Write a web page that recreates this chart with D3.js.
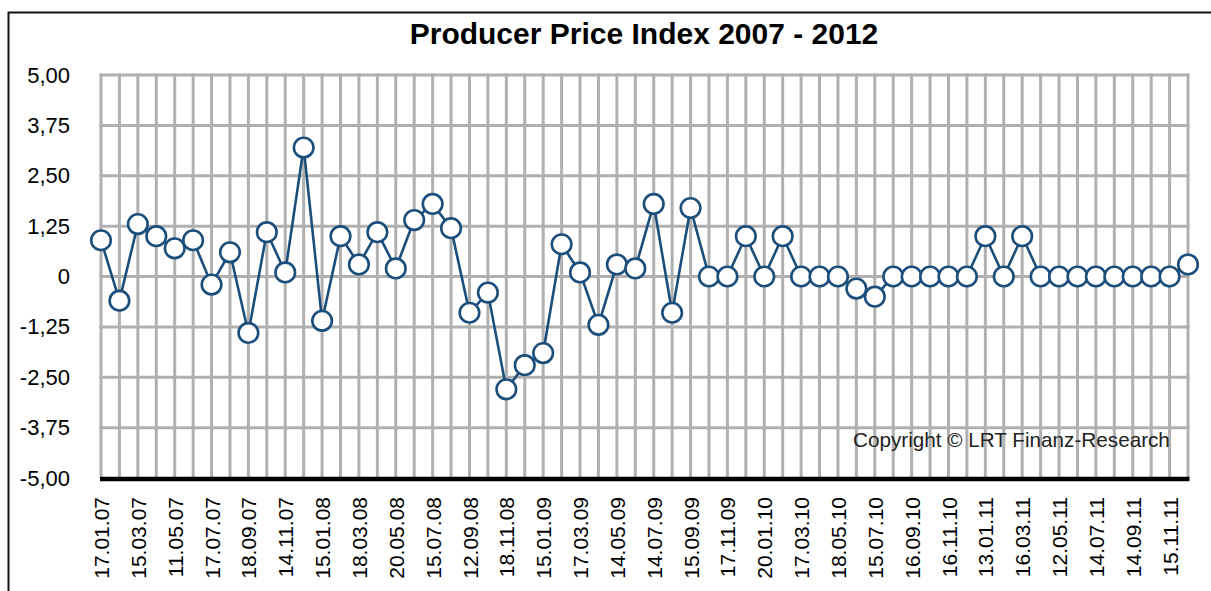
<!DOCTYPE html>
<html>
<head>
<meta charset="utf-8">
<script src="https://cdn.jsdelivr.net/npm/d3@7"></script>
<style>
  html, body { margin: 0; padding: 0; background: #fff; }
  svg { display: block; }
  text { font-family: Arial, "Liberation Sans", sans-serif; }
</style>
</head>
<body>
<svg id="chart" width="1211" height="591"></svg>
<script>
// ---- data ----
const categories = [
  "01.07","02.07","03.07","04.07","05.07","06.07","07.07","08.07","09.07","10.07","11.07","12.07",
  "01.08","02.08","03.08","04.08","05.08","06.08","07.08","08.08","09.08","10.08","11.08","12.08",
  "01.09","02.09","03.09","04.09","05.09","06.09","07.09","08.09","09.09","10.09","11.09","12.09",
  "01.10","02.10","03.10","04.10","05.10","06.10","07.10","08.10","09.10","10.10","11.10","12.10",
  "01.11","02.11","03.11","04.11","05.11","06.11","07.11","08.11","09.11","10.11","11.11","12.11"
];
const values = [
  0.9, -0.6, 1.3, 1.0, 0.7, 0.9, -0.2, 0.6, -1.4, 1.1,
  0.1, 3.2, -1.1, 1.0, 0.3, 1.1, 0.2, 1.4, 1.8, 1.2,
  -0.9, -0.4, -2.8, -2.2, -1.9, 0.8, 0.1, -1.2, 0.3, 0.2,
  1.8, -0.9, 1.7, 0, 0, 1.0, 0, 1.0, 0, 0,
  0, -0.3, -0.5, 0, 0, 0, 0, 0, 1.0, 0,
  1.0, 0, 0, 0, 0, 0, 0, 0, 0, 0.3
];
const tickCategories = [
  "01.07","03.07","05.07","07.07","09.07","11.07",
  "01.08","03.08","05.08","07.08","09.08","11.08",
  "01.09","03.09","05.09","07.09","09.09","11.09",
  "01.10","03.10","05.10","07.10","09.10","11.10",
  "01.11","03.11","05.11","07.11","09.11","11.11"
];
const tickLabels = [
  "17.01.07","15.03.07","11.05.07","17.07.07","18.09.07","14.11.07",
  "15.01.08","18.03.08","20.05.08","15.07.08","12.09.08","18.11.08",
  "15.01.09","17.03.09","14.05.09","14.07.09","15.09.09","17.11.09",
  "20.01.10","17.03.10","18.05.10","15.07.10","16.09.10","16.11.10",
  "13.01.11","16.03.11","12.05.11","14.07.11","14.09.11","15.11.11"
];
const yTicks = [5, 3.75, 2.5, 1.25, 0, -1.25, -2.5, -3.75, -5];
const yTickLabels = ["5,00","3,75","2,50","1,25","0","-1,25","-2,50","-3,75","-5,00"];
const title = "Producer Price Index 2007 - 2012";
const copyright = "Copyright \u00A9 LRT Finanz-Research";

// ---- layout ----
const svg = d3.select("#chart");
const L = 101, R = 1188, T = 75, B = 478;
const x = d3.scalePoint().domain(categories).range([L, R]);
const y = d3.scaleLinear().domain([-5, 5]).range([B, T]);
const gridColor = "#b0b0b0";
const lineColor = "#1c4e7b";

// outer frame
svg.append("rect").attr("x", 8.5).attr("y", 12.5).attr("width", 1230).attr("height", 600)
  .attr("fill", "none").attr("stroke", "#111").attr("stroke-width", 2);

// title
svg.append("text").attr("x", 644).attr("y", 44).attr("text-anchor", "middle")
  .attr("font-size", 30).attr("font-weight", "bold").attr("fill", "#000").text(title);

// vertical gridlines
svg.append("g").selectAll("line").data(categories).join("line")
  .attr("x1", d => x(d)).attr("x2", d => x(d))
  .attr("y1", T - 1.5).attr("y2", B)
  .attr("stroke", gridColor).attr("stroke-width", 3);

// horizontal gridlines
svg.append("g").selectAll("line").data(yTicks.filter(v => v !== -5)).join("line")
  .attr("x1", L - 1.5).attr("x2", R + 1.5)
  .attr("y1", d => y(d)).attr("y2", d => y(d))
  .attr("stroke", gridColor).attr("stroke-width", 3);

// y axis labels
const yAxis = d3.axisLeft(y).tickValues(yTicks)
  .tickFormat((d, i) => yTickLabels[i]).tickSize(0).tickPadding(0);
const gy = svg.append("g").attr("transform", `translate(70,0)`).call(yAxis);
gy.select(".domain").remove();
gy.selectAll("text").attr("font-size", 22).attr("fill", "#000")
  .attr("font-family", 'Arial, "Liberation Sans", sans-serif');

// x axis
const xAxis = d3.axisBottom(x).tickValues(tickCategories)
  .tickFormat((d, i) => tickLabels[i]).tickSize(0).tickPadding(0);
const gx = svg.append("g").attr("transform", `translate(0,${B})`).call(xAxis);
gx.select(".domain").remove();
gx.selectAll("text")
  .attr("font-size", 21).attr("fill", "#000")
  .attr("font-family", 'Arial, "Liberation Sans", sans-serif')
  .attr("text-anchor", "end")
  .attr("transform", "rotate(-90)")
  .attr("x", -19).attr("y", 0).attr("dy", "0.36em");

// black baseline
svg.append("line").attr("x1", L - 1).attr("x2", R + 1.5)
  .attr("y1", y(-5) + 1).attr("y2", y(-5) + 1)
  .attr("stroke", "#000").attr("stroke-width", 4.5);

// copyright
svg.append("text").attr("x", 853).attr("y", 447).attr("font-size", 20.7)
  .attr("fill", "#222").text(copyright);

// line
const line = d3.line().x((d, i) => x(categories[i])).y(d => y(d));
svg.append("path").datum(values).attr("d", line)
  .attr("fill", "none").attr("stroke", lineColor).attr("stroke-width", 2.6)
  .attr("stroke-linejoin", "round");

// markers
svg.append("g").selectAll("circle").data(values).join("circle")
  .attr("cx", (d, i) => x(categories[i])).attr("cy", d => y(d))
  .attr("r", 9.8).attr("fill", "#fff")
  .attr("stroke", lineColor).attr("stroke-width", 2.6);
</script>
</body>
</html>
